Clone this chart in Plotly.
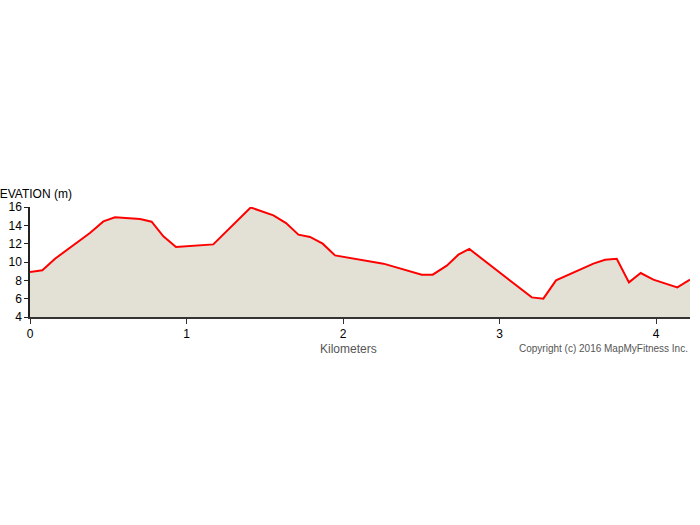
import plotly.graph_objects as go

km = [0.0, 0.079, 0.16, 0.383, 0.469, 0.543, 0.703, 0.777, 0.852, 0.933, 1.171,
      1.41, 1.555, 1.636, 1.715, 1.789, 1.87, 1.949, 2.258, 2.503, 2.573, 2.663,
      2.737, 2.807, 3.206, 3.28, 3.361, 3.6, 3.674, 3.749, 3.827, 3.902, 3.983,
      4.136, 4.217]
elev = [8.91, 9.09, 10.36, 13.16, 14.43, 14.87, 14.69, 14.4, 12.8, 11.64, 11.92,
        15.95, 15.09, 14.25, 12.98, 12.73, 12.0, 10.72, 9.82, 8.62, 8.62, 9.6,
        10.8, 11.42, 6.14, 6.0, 8.0, 9.82, 10.25, 10.36, 7.78, 8.8, 8.07,
        7.23, 8.07]
x_ticks = [0, 1, 2, 3, 4]
y_ticks = [4, 6, 8, 10, 12, 14, 16]

fig = go.Figure()
fig.add_trace(go.Scatter(
    x=km, y=elev, mode="lines",
    line=dict(color="#ff0000", width=2),
    fill="tozeroy", fillcolor="#e3e1d6",
    hoverinfo="skip", showlegend=False,
))

font_family = "Liberation Sans, Arial, sans-serif"
fig.update_layout(
    width=700, height=525,
    margin=dict(l=30, r=10, t=207, b=208, autoexpand=False),
    paper_bgcolor="white", plot_bgcolor="white",
    font=dict(family=font_family, size=11, color="#000"),
    xaxis=dict(
        range=[0, 4.217], tickvals=x_ticks, ticks="outside", ticklen=5,
        tickcolor="#333", tickwidth=1, showline=True, linecolor="#333",
        linewidth=2, showgrid=False, zeroline=False, fixedrange=True,
        tickfont=dict(size=12, color="#000"), automargin=False,
    ),
    yaxis=dict(
        range=[4, 16], tickvals=y_ticks, ticks="outside", ticklen=4,
        tickcolor="#222", tickwidth=1, showline=True, linecolor="#222",
        linewidth=1.5, showgrid=False, zeroline=False, fixedrange=True,
        tickfont=dict(size=12, color="#000"), automargin=False,
    ),
    annotations=[
        dict(text="ELEVATION (m)", xref="paper", yref="paper",
             x=(74 - 30) / 660, y=1.0, xanchor="right", yanchor="bottom",
             yshift=4, showarrow=False,
             font=dict(size=12, color="#000", family=font_family)),
        dict(text="Kilometers", xref="paper", yref="paper",
             x=(348 - 30) / 660, y=0, xanchor="center", yanchor="top",
             yshift=-23, showarrow=False,
             font=dict(size=12, color="#555", family=font_family)),
        dict(text="Copyright (c) 2016 MapMyFitness Inc.", xref="paper", yref="paper",
             x=1.0, y=0, xanchor="right", yanchor="top", yshift=-24,
             showarrow=False,
             font=dict(size=10, color="#555", family=font_family)),
    ],
)

fig.write_html("out.html", config={"displayModeBar": False},
               post_script="document.body.style.margin='0';document.body.style.overflow='hidden';")
